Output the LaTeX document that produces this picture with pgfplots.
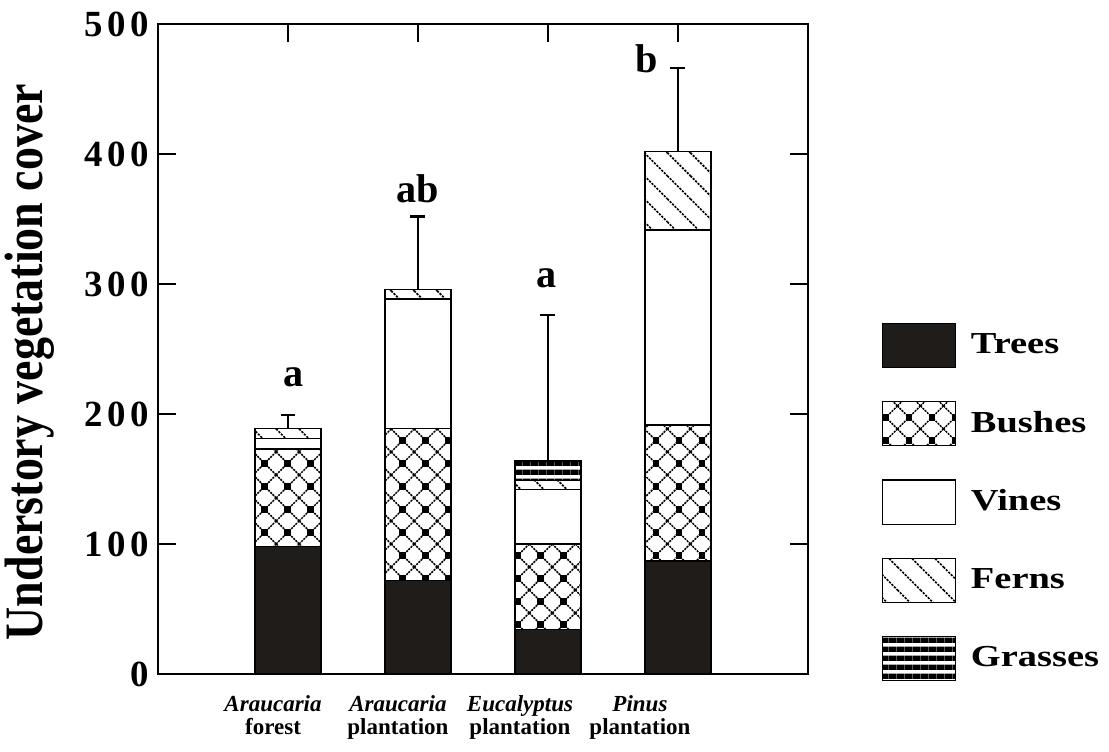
\documentclass[border=0pt]{standalone}
\usepackage{fontspec}
\setmainfont{Liberation Serif}
\usepackage{pgfplots}
\pgfplotsset{compat=1.18}
\usetikzlibrary{patterns}

\definecolor{treescol}{RGB}{32,28,26}

\pgfdeclarepatternformonly{bushes}{\pgfqpoint{-1.2pt}{-1.2pt}}{\pgfqpoint{9.5pt}{9.5pt}}{\pgfqpoint{8.3pt}{8.3pt}}{
  \pgfsetlinewidth{0.55pt}
  \pgfsetdash{{0.75pt}{0.35pt}}{0pt}
  \pgfpathmoveto{\pgfqpoint{0pt}{0pt}}\pgfpathlineto{\pgfqpoint{8.3pt}{8.3pt}}
  \pgfpathmoveto{\pgfqpoint{0pt}{8.3pt}}\pgfpathlineto{\pgfqpoint{8.3pt}{0pt}}
  \pgfusepath{stroke}
  \pgfsetdash{}{0pt}
  \pgfpathrectangle{\pgfqpoint{2.95pt}{2.95pt}}{\pgfqpoint{2.4pt}{2.4pt}}
  \pgfusepath{fill}
}
\pgfdeclarepatternformonly{ferns}{\pgfqpoint{-0.5pt}{-0.5pt}}{\pgfqpoint{8.8pt}{8.8pt}}{\pgfqpoint{8.3pt}{8.3pt}}{
  \pgfsetlinewidth{0.6pt}
  \pgfsetdash{{0.8pt}{0.45pt}}{0pt}
  \pgfpathmoveto{\pgfqpoint{0pt}{8.3pt}}\pgfpathlineto{\pgfqpoint{8.3pt}{0pt}}
  \pgfusepath{stroke}
}
\pgfdeclarepatternformonly{grasses}{\pgfqpoint{0pt}{0pt}}{\pgfqpoint{3pt}{3.2pt}}{\pgfqpoint{3pt}{3.2pt}}{
  \pgfpathrectangle{\pgfqpoint{0pt}{0.4pt}}{\pgfqpoint{3pt}{1.9pt}}
  \pgfusepath{fill}
}

\pgfplotsset{
  mylegend/.style={legend image code/.code={\draw[##1, draw=black, line width=0.4pt] (0pt,-7.95pt) rectangle (26.3pt,7.95pt);}},
}

\begin{document}
\begin{tikzpicture}
\path[use as bounding box] (-57.0pt,-27.8pt) rectangle (343.0pt,243.1pt);
\begin{axis}[
  at={(0,0)}, anchor=south west,
  width=234.4pt, height=234.4pt, scale only axis,
  xmin=-1, xmax=4, ymin=0, ymax=500,
  ybar stacked, bar width=23.8pt,
  ytick={0,100,200,300,400,500},
  xtick={0,1,2,3}, xticklabels={},
  tick align=inside, major tick length=6.5pt,
  every tick/.style={black, line width=0.75pt},
  axis line style={black, line width=0.9pt},
  yticklabel pos=left,
  /pgf/number format/assume math mode=true,
  yticklabel style={font=\fontsize{13.3}{16}\selectfont\bfseries\addfontfeature{LetterSpace=13}, inner sep=0pt, xshift=-2.9pt},
  ylabel={Understory vegetation cover},
  ylabel style={at={(axis description cs:-0.197,0.48)}, anchor=center, font=\fontsize{19.5}{22}\selectfont\bfseries\addfontfeature{FakeStretch=0.85}},
  clip=false,
  legend style={at={(axis description cs:1.114,0.54)}, anchor=north west, draw=none, fill=none,
    inner sep=0pt, outer sep=0pt, row sep=11.9pt, column sep=5.4pt,
    font=\fontsize{11}{13}\selectfont\bfseries\addfontfeature{FakeStretch=1.26}, nodes={inner sep=0pt}},
  legend cell align=left,
]
\addplot[fill=treescol, draw=black, line width=0.5pt, mylegend] coordinates {(0,98) (1,72) (2,34) (3,87)};
\addplot[pattern=bushes, draw=black, line width=0.5pt, mylegend] coordinates {(0,75) (1,117) (2,66) (3,104.5)};
\addplot[fill=white, draw=black, line width=0.5pt, mylegend] coordinates {(0,8) (1,99.5) (2,42) (3,150)};
\addplot[pattern=ferns, draw=black, line width=0.5pt, mylegend] coordinates {(0,8) (1,7.5) (2,7) (3,60.5)};
\addplot[pattern=grasses, draw=black, line width=0.5pt, mylegend] coordinates {(0,0) (1,0) (2,15) (3,0)};
\legend{Trees,Bushes,Vines,Ferns,Grasses}

\node[font=\fontsize{14.5}{16}\selectfont\bfseries, anchor=base] at (axis cs:0.04,221.5) {a};
\node[font=\fontsize{14.5}{16}\selectfont\bfseries, anchor=base] at (axis cs:1,363) {ab};
\node[font=\fontsize{14.5}{16}\selectfont\bfseries, anchor=base] at (axis cs:1.99,297) {a};
\node[font=\fontsize{14.5}{16}\selectfont\bfseries, anchor=base] at (axis cs:2.76,463) {b};

\node[font=\fontsize{8.3}{9}\selectfont\bfseries\itshape, anchor=base, yshift=-13.7pt] at (axis cs:-0.115,0) {Araucaria};
\node[font=\fontsize{8.3}{9}\selectfont\bfseries, anchor=base, yshift=-22.0pt] at (axis cs:-0.115,0) {forest};
\node[font=\fontsize{8.3}{9}\selectfont\bfseries\itshape, anchor=base, yshift=-13.7pt] at (axis cs:0.846,0) {Araucaria};
\node[font=\fontsize{8.3}{9}\selectfont\bfseries, anchor=base, yshift=-22.0pt] at (axis cs:0.846,0) {plantation};
\node[font=\fontsize{8.3}{9}\selectfont\bfseries\itshape, anchor=base, yshift=-13.7pt] at (axis cs:1.785,0) {Eucalyptus};
\node[font=\fontsize{8.3}{9}\selectfont\bfseries, anchor=base, yshift=-22.0pt] at (axis cs:1.785,0) {plantation};
\node[font=\fontsize{8.3}{9}\selectfont\bfseries\itshape, anchor=base, yshift=-13.7pt] at (axis cs:2.708,0) {Pinus};
\node[font=\fontsize{8.3}{9}\selectfont\bfseries, anchor=base, yshift=-22.0pt] at (axis cs:2.708,0) {plantation};
\end{axis}
\begin{axis}[
  at={(0,0)}, anchor=south west,
  width=234.4pt, height=234.4pt, scale only axis,
  xmin=-1, xmax=4, ymin=0, ymax=500,
  hide axis, clip=false,
]
\addplot[draw=none, mark=none, forget plot,
  error bars/.cd, y dir=plus, y explicit, error mark=|,
  error bar style={draw=black, line width=0.8pt, solid},
  error mark options={draw=black, line width=0.8pt, mark size=2.7pt, solid}]
  coordinates {(0,189) +- (0,10) (1,296) +- (0,56) (2,164.5) +- (0,111.5) (3,402) +- (0,64)};
\end{axis}
\end{tikzpicture}
\end{document}
